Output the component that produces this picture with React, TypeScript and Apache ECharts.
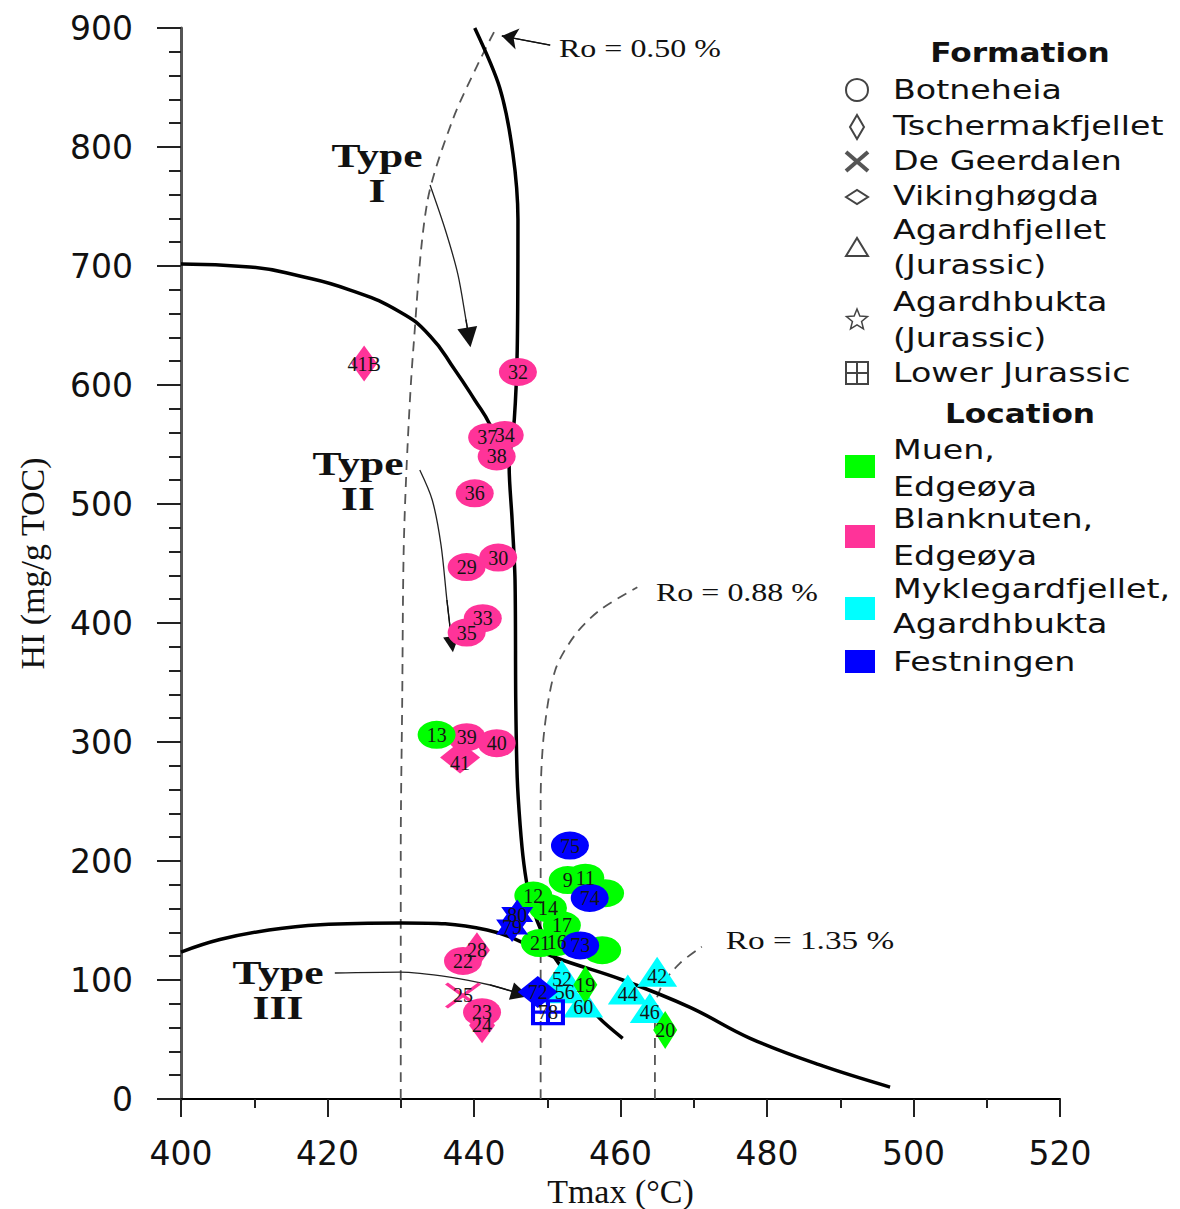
import React, { useEffect, useRef } from 'react';
import * as echarts from 'echarts';

// ---------- axis ----------
const xTicks = { min: 400, max: 520, step: 20 };
const yTicks = { min: 0, max: 900, step: 100 };

// ---------- kerogen type curves (Tmax, HI) ----------
const typeICurve = [[440.1, 900], [443.5, 850], [445.3, 795], [446.0, 739], [445.9, 629], [445.5, 571], [444.8, 531], [445.2, 487], [445.6, 436], [445.7, 335], [445.9, 270], [446.3, 230], [446.8, 198], [447.5, 172], [448.6, 150], [450.8, 121], [453.8, 96], [456.8, 70], [460.3, 51]];
const typeIICurve = [[400, 701.7], [409.4, 699.2], [416.2, 691.6], [423.1, 679.8], [429.9, 661.3], [434.0, 641.2], [437.4, 612.6], [440.1, 587.4], [442.2, 566.4], [443.5, 545.4], [444.8, 531]];
const typeIIICurve = [[400, 123.5], [405.3, 134], [412.0, 142], [419.0, 146.5], [430.2, 148], [441.8, 142], [451.3, 118.5], [460.3, 100], [469.5, 77], [477.7, 51], [487.2, 28.6], [496.8, 10]];

// ---------- vitrinite reflectance isolines ----------
const ro050 = [[430.0, 0], [430.0, 209], [430.2, 335], [430.4, 461], [430.9, 545], [431.7, 629], [433.6, 753], [437.1, 823], [440.8, 873], [443.1, 901]];
const ro088 = [[449.1, 0], [449.1, 167], [449.1, 251], [449.6, 310], [451.1, 360.5], [453.8, 390], [457.2, 411], [462.3, 430]];
const ro135 = [[464.7, 0], [464.7, 75], [465.7, 96], [468.1, 114], [471.1, 128]];

// ---------- annotation arrows ----------
const typeIArrow = [[434.0, 768], [436.1, 730], [437.8, 693], [438.9, 655], [439.3, 640]];
const typeIIArrow = [[432.6, 528.6], [434.3, 503.4], [435.5, 465.5], [436.3, 419.3], [437.0, 382]];
const typeIIIArrow = [[421.0, 105.9], [429.9, 106.7], [436.7, 102.5], [442.2, 95.8], [446.3, 88.5]];
const ro050Arrow = [[450.4, 885.7], [443.8, 893.3]];

// ---------- samples [Tmax, HI, label] ----------
const blanknutenBotneheia = [[446.0, 611, '32'], [441.8, 556, '37'], [444.2, 558, '34'], [443.1, 540, '38'], [440.1, 509, '36'], [439.0, 447, '29'], [443.3, 455, '30'], [441.2, 404, '33'], [439.0, 392, '35'], [439.0, 304, '39'], [443.1, 299, '40'], [438.5, 116, '22'], [441.1, 73, '23']];
const blanknutenTscherm = [[425.0, 618, '41B'], [440.4, 125, '28'], [441.1, 62, '24']];
const blanknutenGeerdalen = [[438.5, 87, '25']];
const blanknutenViking = [[438.1, 287, '41']];
const mykAgardhfjellet = [[452.0, 104, '52'], [452.4, 93, '56'], [454.9, 81, '60'], [465.0, 107, '42'], [461.0, 92, '44'], [464.0, 76.5, '46']];
const muenBotneheia = [[434.9, 306, '13'], [457.9, 173, ''], [457.5, 125, ''], [448.1, 171, '12'], [450.1, 160.5, '14'], [452.0, 146, '17'], [449.0, 131, '21'], [451.3, 132, '16'], [452.8, 184, '9'], [455.2, 186, '11']];
const muenTscherm = [[455.2, 96, '19'], [466.1, 58, '20']];
const festBotneheia = [[453.1, 213, '75'], [455.8, 169, '74'], [454.5, 129, '73']];
const festViking = [[448.7, 90, '72']];
const festAgardhbukta = [[445.9, 155, '80'], [445.2, 144.5, '79']];
const festLowerJurassic = [[450.1, 73, '78']];

// ---------- legend ----------
const formationItems = ['Botneheia', 'Tschermakfjellet', 'De Geerdalen', 'Vikinghøgda', 'Agardhfjellet', '(Jurassic)', 'Agardhbukta', '(Jurassic)', 'Lower Jurassic'];
const locationItems = ['Muen,', 'Edgeøya', 'Blanknuten,', 'Edgeøya', 'Myklegardfjellet,', 'Agardhbukta', 'Festningen'];
const locationColors = ['#00ff00', '#ff3399', '#00ffff', '#0000ff'];

const GREEN = '#00ff00', PINK = '#ff3399', CYAN = '#00ffff', BLUE = '#0000ff';

const xPath = 'path://M0 8 L8 0 L50 42 L92 0 L100 8 L58 50 L100 92 L92 100 L50 58 L8 100 L0 92 L42 50 Z';
const hexStar = 'path://M50 0 L64.43 25 L93.3 25 L78.87 50 L93.3 75 L64.43 75 L50 100 L35.57 75 L6.7 75 L21.13 50 L6.7 25 L35.57 25 Z';
const gridSquare = 'path://M0 0 H100 V100 H0 Z M12 12 V44 H44 V12 Z M56 12 V44 H88 V12 Z M12 56 V88 H44 V56 Z M56 56 V88 H88 V56 Z';

function sc(arr: any[], symbol: string, size: any, color: string, labelOffset: number[] = [0, 0]) {
  return {
    type: 'scatter',
    data: arr.map((d) => ({ value: [d[0], d[1]], name: d[2] })),
    symbol,
    symbolSize: size,
    itemStyle: { color, opacity: 1 },
    label: {
      show: true, position: 'inside', offset: labelOffset,
      formatter: (p: any) => p.name,
      fontFamily: 'Liberation Serif', fontSize: 20, color: '#141414',
      textBorderWidth: 0,
    },
    emphasis: { disabled: true },
    silent: true,
    z: 3,
  };
}

function ln(arr: number[][], lineStyle: any, smooth: number = 0.3) {
  return { type: 'line', data: arr, symbol: 'none', showSymbol: false, smooth, lineStyle, z: 1, silent: true };
}

function arrowHead(arr: number[][], symbol: string, size: any) {
  const a = arr[arr.length - 2], b = arr[arr.length - 1];
  return {
    type: 'lines', coordinateSystem: 'cartesian2d', z: 2, silent: true,
    symbol: ['none', symbol], symbolSize: size,
    lineStyle: { color: '#111', width: 1.3, opacity: 1, curveness: 0 },
    data: [{ coords: [a, b] }],
  };
}

function T(x: number, y: number, text: string, size: number, opt: any = {}) {
  return {
    type: 'text', x, y, scaleX: opt.sx ?? 1.28, silent: true,
    style: {
      text, fontSize: size, fontFamily: opt.family ?? 'DejaVu Sans', fontWeight: opt.weight ?? 'normal',
      fill: '#111', align: opt.align ?? 'left', textAlign: opt.align ?? 'left',
      verticalAlign: 'middle', textVerticalAlign: 'middle',
    },
  };
}

const starPts: number[][] = [];
for (let i = 0; i < 10; i++) {
  const a = (-90 + i * 36) * Math.PI / 180;
  const r = i % 2 ? 4.8 : 11;
  starPts.push([857 + r * Math.cos(a), 320 + r * Math.sin(a)]);
}

const formationY = [90, 126, 161, 196, 230, 265, 302, 338, 373];
const locationY = [450, 487, 519, 556, 589, 624, 662];
const locationRectY = [455, 525, 597, 650];

const sym = { fill: 'none', stroke: '#444', lineWidth: 2 };

const graphic: any[] = [
  T(640, 48, 'Ro = 0.50 %', 25, { family: 'Liberation Serif', align: 'center' }),
  T(737, 592, 'Ro = 0.88 %', 25, { family: 'Liberation Serif', align: 'center' }),
  T(810, 940, 'Ro = 1.35 %', 26, { family: 'Liberation Serif', align: 'center' }),
  T(377, 155, 'Type', 34, { family: 'Liberation Serif', weight: 'bold', align: 'center' }),
  T(377, 190, 'I', 34, { family: 'Liberation Serif', weight: 'bold', align: 'center' }),
  T(358, 463, 'Type', 34, { family: 'Liberation Serif', weight: 'bold', align: 'center' }),
  T(358, 498, 'II', 34, { family: 'Liberation Serif', weight: 'bold', align: 'center' }),
  T(278, 972, 'Type', 34, { family: 'Liberation Serif', weight: 'bold', align: 'center' }),
  T(278, 1007, 'III', 34, { family: 'Liberation Serif', weight: 'bold', align: 'center' }),
  T(1020, 53, 'Formation', 26, { weight: 'bold', align: 'center', sx: 1.2 }),
  T(1020, 414, 'Location', 26, { weight: 'bold', align: 'center', sx: 1.2 }),
  ...formationItems.map((s, i) => T(893, formationY[i], s, 26)),
  ...locationItems.map((s, i) => T(893, locationY[i], s, 26)),
  { type: 'circle', shape: { cx: 857, cy: 90, r: 11 }, style: sym },
  { type: 'polygon', shape: { points: [[857, 115], [864, 127], [857, 139], [850, 127]] }, style: sym },
  { type: 'line', shape: { x1: 846, y1: 152, x2: 868, y2: 171 }, style: { stroke: '#555', lineWidth: 4 } },
  { type: 'line', shape: { x1: 846, y1: 171, x2: 868, y2: 152 }, style: { stroke: '#555', lineWidth: 4 } },
  { type: 'polygon', shape: { points: [[846, 197], [857, 190], [868, 197], [857, 204]] }, style: sym },
  { type: 'polygon', shape: { points: [[846, 256], [857, 238], [868, 256]] }, style: sym },
  { type: 'polygon', shape: { points: starPts }, style: { fill: 'none', stroke: '#444', lineWidth: 1.5 } },
  { type: 'rect', shape: { x: 846, y: 362, width: 22, height: 22 }, style: sym },
  { type: 'line', shape: { x1: 857, y1: 362, x2: 857, y2: 384 }, style: { stroke: '#444', lineWidth: 2 } },
  { type: 'line', shape: { x1: 846, y1: 373, x2: 868, y2: 373 }, style: { stroke: '#444', lineWidth: 2 } },
  ...locationColors.map((c, i) => ({ type: 'rect', shape: { x: 845, y: locationRectY[i], width: 30, height: 23 }, style: { fill: c } })),
];

const thick = { color: '#000', width: 3.5 };
const dashed = { color: '#555', width: 1.8, type: [10, 7] };
const thin = { color: '#222', width: 1.3 };

const option: any = {
  animation: false,
  backgroundColor: '#fff',
  grid: { left: 181, top: 28, width: 879, height: 1071, containLabel: false, outerBoundsMode: 'none' },
  xAxis: {
    type: 'value', min: xTicks.min, max: xTicks.max, interval: xTicks.step,
    name: 'Tmax (°C)', nameLocation: 'middle', nameGap: 70,
    nameTextStyle: { fontFamily: 'Liberation Serif', fontSize: 34, color: '#111' },
    axisLine: { show: true, onZero: false, lineStyle: { color: '#000', width: 2 } },
    axisTick: { show: true, inside: false, length: 18, lineStyle: { color: '#222', width: 2 } },
    minorTick: { show: true, splitNumber: 2, length: 9, lineStyle: { color: '#222', width: 2 } },
    splitLine: { show: false },
    axisLabel: { fontFamily: 'DejaVu Sans', fontSize: 33, color: '#111', margin: 38 },
  },
  yAxis: {
    type: 'value', min: yTicks.min, max: yTicks.max, interval: yTicks.step,
    name: 'HI (mg/g TOC)', nameLocation: 'middle', nameGap: 132, nameRotate: 90,
    nameTextStyle: { fontFamily: 'Liberation Serif', fontSize: 34, color: '#111' },
    axisLine: { show: true, onZero: false, lineStyle: { color: '#555', width: 3 } },
    axisTick: { show: true, inside: false, length: 24, lineStyle: { color: '#222', width: 2 } },
    minorTick: { show: true, splitNumber: 5, length: 12, lineStyle: { color: '#222', width: 2 } },
    splitLine: { show: false },
    axisLabel: { fontFamily: 'DejaVu Sans', fontSize: 33, color: '#111', margin: 48 },
  },
  graphic,
  series: [
    ln(ro050, dashed, 0.3),
    ln(ro088, dashed, 0.3),
    ln(ro135, dashed, 0.3),
    ln(typeICurve, thick, 0.3),
    ln(typeIICurve, thick, 0.5),
    ln(typeIIICurve, thick, 0.4),
    ln(typeIArrow, thin, 0.3),
    ln(typeIIArrow, thin, 0.3),
    ln(typeIIIArrow, thin, 0.3),
    arrowHead(typeIArrow, 'triangle', [16, 20]),
    arrowHead(typeIIArrow, 'triangle', [12, 16]),
    arrowHead(typeIIIArrow, 'triangle', [14, 18]),
    arrowHead(ro050Arrow, 'arrow', [12, 16]),
    ln(ro050Arrow, thin, 0),
    sc(blanknutenTscherm, 'diamond', [26, 36], PINK),
    sc(blanknutenViking, 'diamond', [40, 32], PINK, [0, 6]),
    sc(blanknutenBotneheia, 'circle', [38, 28], PINK),
    sc(blanknutenGeerdalen, xPath, [36, 26], PINK),
    sc(mykAgardhfjellet, 'triangle', [40, 30], CYAN, [0, 4]),
    sc(muenBotneheia, 'circle', [38, 28], GREEN),
    sc(muenTscherm, 'diamond', [24, 38], GREEN),
    sc(festBotneheia, 'circle', [38, 28], BLUE),
    sc(festViking, 'diamond', [40, 32], BLUE),
    sc(festAgardhbukta, hexStar, [32, 30], BLUE),
    sc(festLowerJurassic, gridSquare, [34, 26], BLUE),
  ],
};

export default function App() {
  const ref = useRef<HTMLDivElement>(null);
  useEffect(() => {
    document.body.style.margin = '0';
    const chart = echarts.init(ref.current!, null, { renderer: 'svg' });
    chart.setOption(option);
    return () => chart.dispose();
  }, []);
  return <div ref={ref} style={{ width: 1180, height: 1209 }} />;
}
